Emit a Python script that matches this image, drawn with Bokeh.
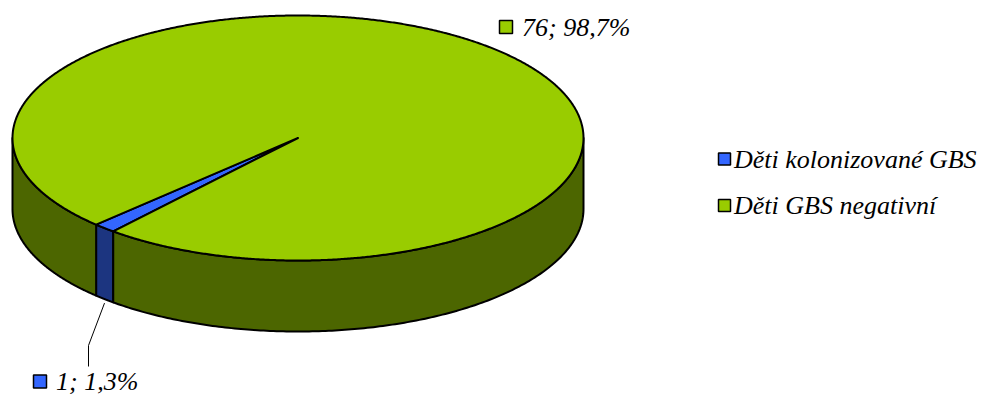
import numpy as np
from bokeh.plotting import figure
from bokeh.models import Range1d
from bokeh.core.properties import value
from bokeh.embed import file_html
from bokeh.resources import INLINE

# ---- data ----
categories = ["Děti kolonizované GBS", "Děti GBS negativní"]
counts = [1, 76]
percent_labels = ["1; 1,3%", "76; 98,7%"]
top_colors = ["#3366FF", "#99CC00"]
side_colors = ["#1C3580", "#4C6600"]

# ---- layout (picture pixel coordinates) ----
W, H = 977, 398
CX, CY, RX, RY, DEPTH = 297.5, 137.5, 285.5, 122.5, 71.0
START = 225.0
FONT = "'Liberation Serif', 'Times New Roman', serif"
FS = "26px"

p = figure(width=W, height=H, x_range=Range1d(0, W), y_range=Range1d(H, 0),
           output_backend="svg", toolbar_location=None,
           x_axis_location=None, y_axis_location=None,
           min_border=0, min_border_left=0, min_border_right=0,
           min_border_top=0, min_border_bottom=0)
p.grid.visible = False
p.outline_line_color = None
p.background_fill_color = "white"


def pt(theta, dz=0.0):
    t = np.radians(theta)
    return CX + RX * np.cos(t), CY - RY * np.sin(t) + dz


total = float(sum(counts))
spans = [360.0 * c / total for c in counts]
starts = [START + sum(spans[:i]) for i in range(len(counts))]

# side walls (front half: 180..360 degrees)
for i in range(len(counts)):
    a0, a1 = starts[i], starts[i] + spans[i]
    for k in range(-1, 3):
        lo, hi = max(a0, 180 + 360 * k), min(a1, 360 + 360 * k)
        if hi <= lo:
            continue
        th = np.linspace(lo, hi, 200)
        xt, yt = pt(th)
        xb, yb = pt(th[::-1], DEPTH)
        p.patch(np.concatenate([xt, xb]), np.concatenate([yt, yb]),
                fill_color=side_colors[i], line_color="black", line_width=2,
                line_join="round")

# top faces
for i in range(len(counts)):
    a0, a1 = starts[i], starts[i] + spans[i]
    th = np.linspace(a0, a1, max(20, int(spans[i] * 3)))
    xt, yt = pt(th)
    p.patch(np.concatenate([[CX], xt]), np.concatenate([[CY], yt]),
            fill_color=top_colors[i], line_color="black", line_width=2,
            line_join="round")

# data labels
mid0 = starts[0] + spans[0] / 2
ax, ay = pt(mid0, DEPTH)
p.line([ax, 88, 88], [ay + 4, 345, 366], line_color="black", line_width=1)
lab_pos = [(39.5, 381.0), (505.5, 26.5)]
for i, (sx, sy) in enumerate(lab_pos):
    p.rect(x=[sx], y=[sy], width=13, height=13, fill_color=top_colors[i],
           line_color="black", line_width=1.5)
    p.text(x=[sx + 16], y=[sy], text=[percent_labels[i]], text_font=value(FONT),
           text_font_style="italic", text_font_size=FS, text_baseline="middle",
           text_align="left", text_color="black")

# legend
leg_y = [158.5, 205.0]
for i, ly in enumerate(leg_y):
    p.rect(x=[724], y=[ly], width=12, height=12, fill_color=top_colors[i],
           line_color="black", line_width=1.5)
    p.text(x=[733.5], y=[ly], text=[categories[i]], text_font=value(FONT),
           text_font_style="italic", text_font_size=FS, text_baseline="middle",
           text_align="left", text_color="black")

open("out.html", "w").write(file_html(p, INLINE))
